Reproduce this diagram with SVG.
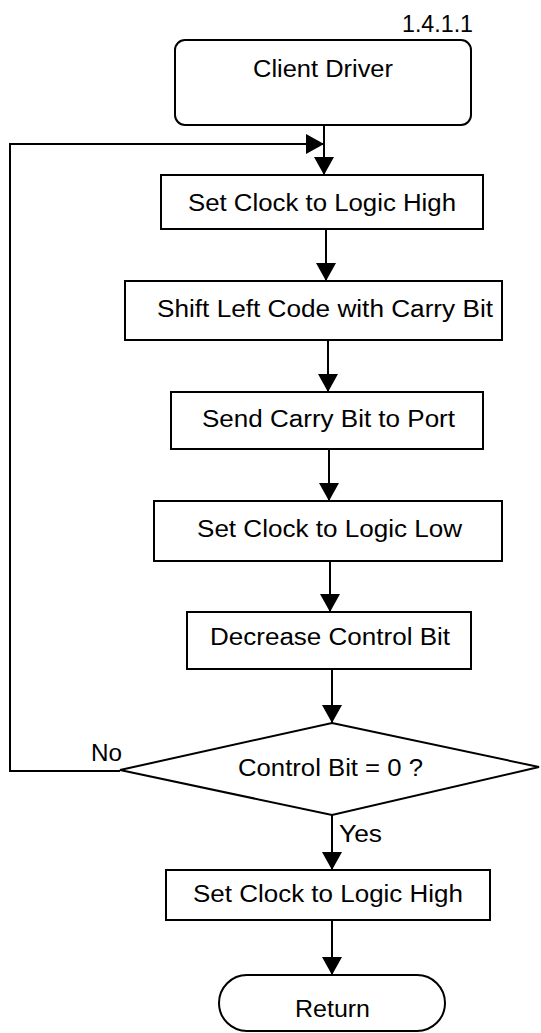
<svg xmlns="http://www.w3.org/2000/svg" width="541" height="1033" viewBox="0 0 541 1033">
<style>
  .box { fill: #fff; stroke: #000; stroke-width: 2; }
  .lbl { font-family: "Liberation Sans", Arial, sans-serif; font-size: 23px; fill: #000; }
  .edge { fill: none; stroke: #000; stroke-width: 2; }
</style>
<defs>
  <marker id="arr" markerUnits="userSpaceOnUse" markerWidth="18" markerHeight="20" refX="18" refY="10" orient="auto">
    <path d="M0,0 L18,10 L0,20 z" fill="#000"/>
  </marker>
</defs>
<rect width="541" height="1033" fill="#fff"/>
<text class="lbl" x="402" y="32" textLength="71" lengthAdjust="spacingAndGlyphs">1.4.1.1</text>
<g id="connectors">
  <path class="edge" d="M324,125 L324,175" marker-end="url(#arr)"/>
  <path class="edge" d="M120,771 L10,771 L10,144 L324,144" marker-end="url(#arr)"/>
  <path class="edge" d="M326,229 L326,281" marker-end="url(#arr)"/>
  <path class="edge" d="M328,340 L328,392" marker-end="url(#arr)"/>
  <path class="edge" d="M329,449 L329,501" marker-end="url(#arr)"/>
  <path class="edge" d="M330,561 L330,612" marker-end="url(#arr)"/>
  <path class="edge" d="M332,669 L332,723" marker-end="url(#arr)"/>
  <path class="edge" d="M332,815 L332,870" marker-end="url(#arr)"/>
  <path class="edge" d="M332,920 L332,975" marker-end="url(#arr)"/>
  <text class="lbl" x="91" y="761" textLength="31" lengthAdjust="spacingAndGlyphs">No</text>
  <text class="lbl" x="339" y="842" textLength="43" lengthAdjust="spacingAndGlyphs">Yes</text>
</g>
<g id="client-driver">
  <rect class="box" x="175" y="40" width="296" height="85" rx="10"/>
  <text class="lbl" x="253" y="77" textLength="140" lengthAdjust="spacingAndGlyphs">Client Driver</text>
</g>
<g id="set-clock-high-1">
  <rect class="box" x="161" y="175" width="322" height="54"/>
  <text class="lbl" x="188" y="211" textLength="268" lengthAdjust="spacingAndGlyphs">Set Clock to Logic High</text>
</g>
<g id="shift-left">
  <rect class="box" x="125" y="281" width="377" height="59"/>
  <text class="lbl" x="157" y="317" textLength="336" lengthAdjust="spacingAndGlyphs">Shift Left Code with Carry Bit</text>
</g>
<g id="send-carry">
  <rect class="box" x="171" y="392" width="312" height="57"/>
  <text class="lbl" x="202" y="427" textLength="253" lengthAdjust="spacingAndGlyphs">Send Carry Bit to Port</text>
</g>
<g id="set-clock-low">
  <rect class="box" x="154" y="501" width="348" height="60"/>
  <text class="lbl" x="197" y="537" textLength="265" lengthAdjust="spacingAndGlyphs">Set Clock to Logic Low</text>
</g>
<g id="decrease">
  <rect class="box" x="187" y="612" width="284" height="57"/>
  <text class="lbl" x="210" y="645" textLength="240" lengthAdjust="spacingAndGlyphs">Decrease Control Bit</text>
</g>
<g id="decision">
  <polygon class="box" points="332,723 539,767 332,815 120,770"/>
  <text class="lbl" x="238" y="776" textLength="185" lengthAdjust="spacingAndGlyphs">Control Bit = 0 ?</text>
</g>
<g id="set-clock-high-2">
  <rect class="box" x="166" y="870" width="324" height="50"/>
  <text class="lbl" x="193" y="902" textLength="270" lengthAdjust="spacingAndGlyphs">Set Clock to Logic High</text>
</g>
<g id="return">
  <rect class="box" x="219" y="975" width="226" height="56" rx="28"/>
  <text class="lbl" x="295" y="1017" textLength="75" lengthAdjust="spacingAndGlyphs">Return</text>
</g>
</svg>
